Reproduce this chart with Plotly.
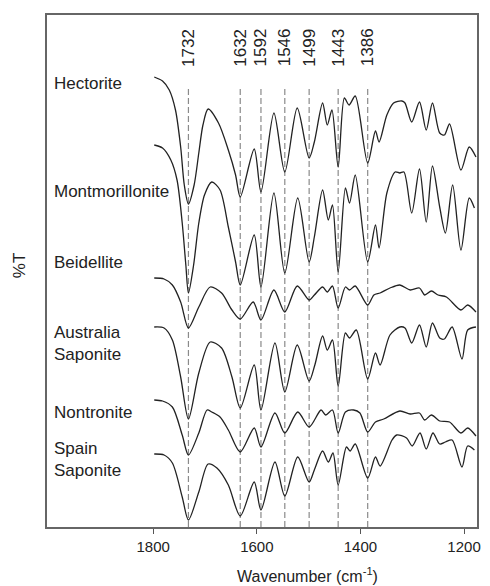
import plotly.graph_objects as go

# FTIR spectra (transmittance, vertically offset, arbitrary units)
hectorite_wn = [1798, 1782, 1769, 1757, 1747, 1740, 1732, 1721, 1712, 1704, 1694, 1674, 1655, 1641, 1632,
                1605, 1592, 1567, 1546, 1522, 1499, 1489, 1473, 1464, 1455, 1443, 1431, 1422, 1410, 1386,
                1371, 1364, 1349, 1336, 1320, 1314, 1301, 1286, 1273, 1261, 1247, 1238, 1228, 1206, 1190, 1177]
hectorite_t = [450, 446, 437, 417, 380, 342, 323, 342, 374, 402, 418, 404, 377, 352, 330,
               378, 335, 414, 355, 419, 369, 385, 424, 402, 417, 360, 429, 422, 431, 364,
               396, 385, 412, 424, 426, 424, 405, 425, 397, 424, 394, 392, 403, 357, 380, 370]

montmorillonite_wn = [1798, 1782, 1766, 1754, 1744, 1737, 1732, 1722, 1712, 1701, 1687, 1671, 1655, 1641, 1632,
                      1605, 1592, 1567, 1546, 1521, 1499, 1489, 1473, 1462, 1454, 1443, 1429, 1421, 1410, 1386,
                      1371, 1364, 1349, 1333, 1324, 1316, 1301, 1286, 1273, 1261, 1247, 1236, 1222, 1206, 1190, 1180]
montmorillonite_t = [382, 379, 367, 347, 304, 262, 234, 262, 304, 332, 345, 337, 300, 265, 242,
                     292, 240, 334, 254, 329, 265, 290, 337, 307, 322, 255, 339, 324, 352, 265,
                     302, 279, 334, 355, 354, 355, 314, 358, 305, 361, 320, 294, 342, 277, 329, 319]

beidellite_wn = [1798, 1779, 1763, 1747, 1732, 1712, 1690, 1668, 1648, 1632, 1607, 1592, 1567, 1546, 1522,
                 1499, 1489, 1473, 1464, 1454, 1443, 1429, 1421, 1410, 1386, 1374, 1362, 1343, 1324, 1304,
                 1286, 1276, 1263, 1250, 1234, 1206, 1193, 1177]
beidellite_t = [249, 248, 242, 225, 199, 220, 240, 234, 217, 208, 225, 207, 237, 215, 241,
                227, 232, 240, 235, 241, 219, 240, 237, 241, 222, 232, 234, 239, 242, 237,
                239, 232, 236, 232, 230, 217, 222, 215]

australia_wn = [1798, 1779, 1763, 1747, 1732, 1712, 1690, 1668, 1648, 1632, 1605, 1592, 1565, 1546, 1522,
                1499, 1488, 1473, 1464, 1454, 1443, 1429, 1421, 1408, 1386, 1371, 1362, 1343, 1324, 1314,
                1301, 1286, 1273, 1261, 1247, 1238, 1223, 1204, 1193, 1177]
australia_t = [200, 199, 187, 150, 108, 154, 185, 179, 150, 119, 162, 117, 184, 135, 182,
               146, 162, 191, 177, 187, 141, 194, 189, 197, 148, 174, 162, 192, 200, 199,
               184, 202, 180, 204, 189, 188, 200, 168, 197, 200]

nontronite_wn = [1798, 1782, 1763, 1744, 1732, 1712, 1696, 1687, 1671, 1655, 1632, 1605, 1592, 1565, 1546,
                 1521, 1499, 1476, 1467, 1454, 1443, 1429, 1413, 1401, 1386, 1371, 1355, 1324, 1304, 1286,
                 1276, 1263, 1247, 1228, 1206, 1193, 1177]
nontronite_t = [127, 126, 120, 92, 72, 94, 117, 115, 110, 97, 75, 99, 80, 114, 94,
                115, 100, 117, 112, 117, 94, 115, 117, 114, 95, 105, 108, 116, 113, 114,
                107, 112, 106, 105, 94, 99, 91]

spain_wn = [1798, 1779, 1763, 1744, 1732, 1712, 1694, 1677, 1655, 1632, 1605, 1592, 1565, 1546, 1521,
            1499, 1489, 1473, 1462, 1453, 1443, 1427, 1420, 1410, 1386, 1371, 1362, 1339, 1330, 1311,
            1300, 1285, 1273, 1260, 1247, 1236, 1223, 1204, 1193, 1180]
spain_t = [73, 72, 64, 30, 7, 35, 63, 59, 42, 11, 45, 17, 65, 31, 70,
           45, 57, 76, 65, 74, 42, 80, 76, 83, 49, 70, 61, 87, 92, 89,
           81, 94, 78, 94, 83, 85, 87, 60, 81, 77]

spectra = [
    ("Hectorite", hectorite_wn, hectorite_t, 0.867),
    ("Montmorillonite", montmorillonite_wn, montmorillonite_t, 0.656),
    ("Beidellite", beidellite_wn, beidellite_t, 0.516),
    ("Australia<br>Saponite", australia_wn, australia_t, 0.359),
    ("Nontronite", nontronite_wn, nontronite_t, 0.2246),
    ("Spain<br>Saponite", spain_wn, spain_t, 0.132),
]

# Assigned band positions
band_positions = [1732, 1632, 1592, 1546, 1499, 1443, 1386]
band_line_top = 439

x_ticks = [1800, 1600, 1400, 1200]

FONT = "Arial, Liberation Sans, sans-serif"
INK = "#222222"

fig = go.Figure()

for name, wn, t, _ in spectra:
    fig.add_trace(go.Scatter(
        x=wn, y=t, mode="lines", name=name.replace("<br>", " "),
        line=dict(color=INK, width=1.3, shape="spline", smoothing=0.8),
        showlegend=False, hoverinfo="skip",
    ))

shapes = []
annotations = []
for b in band_positions:
    shapes.append(dict(
        type="line", xref="x", yref="y", x0=b, x1=b, y0=0, y1=band_line_top,
        line=dict(color="#8a8a8a", width=1.2, dash="6px,3px"), layer="below",
    ))
    annotations.append(dict(
        x=b, y=0.9365, xref="x", yref="paper", text=str(b), showarrow=False,
        textangle=-90, font=dict(family=FONT, size=17, color=INK),
        xanchor="center", yanchor="middle",
    ))

for name, _, _, ypos in spectra:
    annotations.append(dict(
        x=0.0115, y=ypos, xref="paper", yref="paper", text=name, showarrow=False,
        align="left", xanchor="left", yanchor="middle",
        font=dict(family=FONT, size=17, color=INK),
    ))

annotations.append(dict(
    x=0.606, y=-0.093, xref="paper", yref="paper",
    text="Wavenumber (cm<sup>-1</sup>)", showarrow=False,
    xanchor="center", yanchor="middle",
    font=dict(family=FONT, size=16, color=INK),
))
annotations.append(dict(
    x=-0.062, y=0.512, xref="paper", yref="paper", text="%T", showarrow=False,
    textangle=-90, xanchor="center", yanchor="middle",
    font=dict(family=FONT, size=17, color=INK),
))

fig.update_layout(
    width=490, height=586,
    margin=dict(l=47, r=9, t=15, b=59),
    paper_bgcolor="white", plot_bgcolor="white",
    shapes=shapes, annotations=annotations,
    xaxis=dict(
        range=[2005, 1175], tickvals=x_ticks, ticks="outside", ticklen=5,
        tickcolor="#555555", tickwidth=1.2,
        showline=True, mirror=True, linecolor="#666666", linewidth=1.5,
        showgrid=False, zeroline=False,
        tickfont=dict(family=FONT, size=15, color=INK),
    ),
    yaxis=dict(
        range=[0, 512], showticklabels=False, ticks="",
        showline=True, mirror=True, linecolor="#666666", linewidth=1.5,
        showgrid=False, zeroline=False,
    ),
)

fig.write_html("out.html")
